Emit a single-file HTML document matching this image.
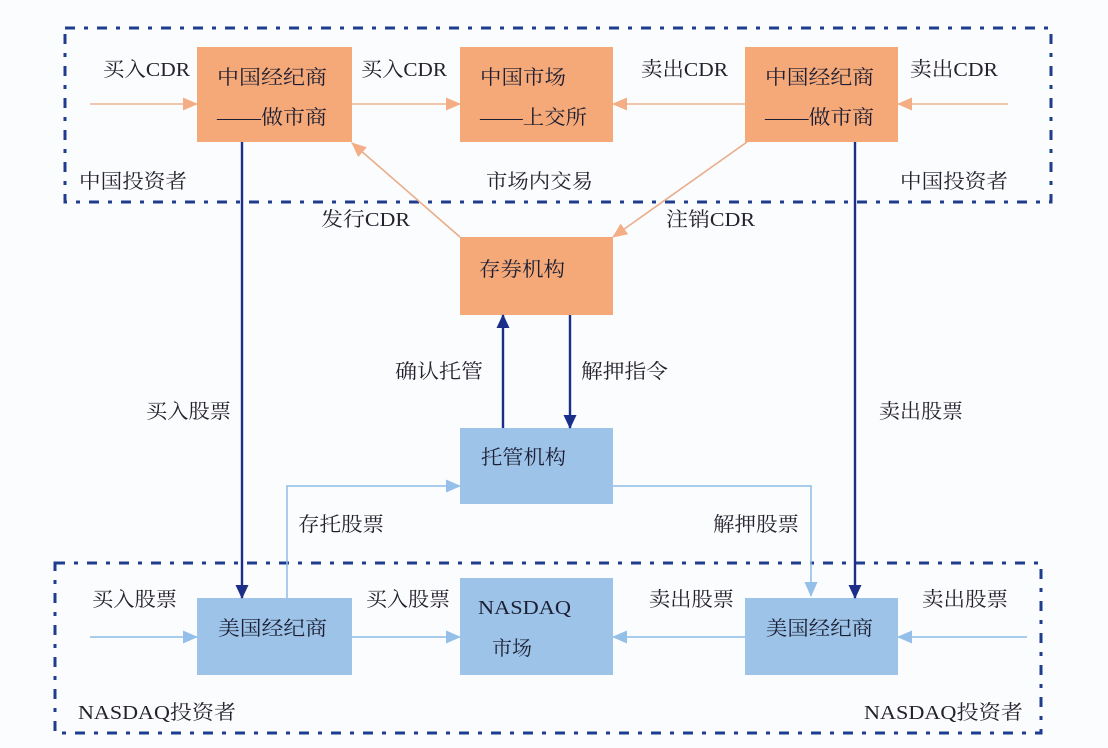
<!DOCTYPE html>
<html>
<head>
<meta charset="utf-8">
<style>
  html,body{margin:0;padding:0;background:#fbfcfe;}
  svg{display:block;}
  text{font-family:"Liberation Serif","Noto Serif CJK SC",serif;fill:#25212c;font-size:20px;dominant-baseline:central;}
  .bx{fill:#1c1f33;}
</style>
</head>
<body>
<svg width="1108" height="748" viewBox="0 0 1108 748" xmlns="http://www.w3.org/2000/svg">
  <defs>
    <marker id="ao" markerWidth="15" markerHeight="13" refX="14" refY="6.5" orient="auto" markerUnits="userSpaceOnUse">
      <path d="M0,0 L15,6.5 L0,13 Z" fill="#f4ad84"/>
    </marker>
    <marker id="ab" markerWidth="15" markerHeight="13" refX="14" refY="6.5" orient="auto" markerUnits="userSpaceOnUse">
      <path d="M0,0 L15,6.5 L0,13 Z" fill="#94bfe8"/>
    </marker>
    <marker id="ad" markerWidth="14" markerHeight="13" refX="13" refY="6.5" orient="auto" markerUnits="userSpaceOnUse">
      <path d="M0,0 L14,6.5 L0,13 Z" fill="#1b2f8a"/>
    </marker>
  </defs>

  <rect x="0" y="0" width="1108" height="748" fill="#fbfcfe"/>

  <!-- dashed regions -->
  <rect x="65" y="28" width="986" height="174" fill="none" stroke="#1f3d8f" stroke-width="3" stroke-dasharray="10 9 4 9"/>
  <rect x="55" y="563" width="986" height="170" fill="none" stroke="#1f3d8f" stroke-width="3" stroke-dasharray="10 9 4 9"/>

  <!-- boxes orange -->
  <rect x="197" y="47" width="155" height="95" fill="#f5a878"/>
  <rect x="460" y="47" width="153" height="95" fill="#f5a878"/>
  <rect x="745" y="47" width="153" height="95" fill="#f5a878"/>
  <rect x="460" y="237" width="153" height="78" fill="#f5a878"/>
  <!-- boxes blue -->
  <rect x="460" y="428" width="153" height="76" fill="#9dc3e8"/>
  <rect x="197" y="598" width="155" height="77" fill="#9dc3e8"/>
  <rect x="460" y="578" width="153" height="97" fill="#9dc3e8"/>
  <rect x="745" y="598" width="153" height="77" fill="#9dc3e8"/>

  <!-- orange arrows -->
  <line x1="90" y1="104" x2="197" y2="104" stroke="#f0b48e" stroke-width="1.6" marker-end="url(#ao)"/>
  <line x1="352" y1="104" x2="460" y2="104" stroke="#f0b48e" stroke-width="1.6" marker-end="url(#ao)"/>
  <line x1="745" y1="104" x2="613" y2="104" stroke="#f0b48e" stroke-width="1.6" marker-end="url(#ao)"/>
  <line x1="1008" y1="104" x2="898" y2="104" stroke="#f0b48e" stroke-width="1.6" marker-end="url(#ao)"/>
  <line x1="460" y1="237" x2="352" y2="143" stroke="#e9ad8a" stroke-width="1.6" marker-end="url(#ao)"/>
  <line x1="747" y1="142" x2="613" y2="237" stroke="#e9ad8a" stroke-width="1.6" marker-end="url(#ao)"/>

  <!-- dark navy arrows -->
  <line x1="242" y1="142" x2="242" y2="598" stroke="#1b2f8a" stroke-width="2.4" marker-end="url(#ad)"/>
  <line x1="855" y1="142" x2="855" y2="598" stroke="#1b2f8a" stroke-width="2.4" marker-end="url(#ad)"/>
  <line x1="503" y1="428" x2="503" y2="315" stroke="#1b2f8a" stroke-width="2.4" marker-end="url(#ad)"/>
  <line x1="570" y1="315" x2="570" y2="428" stroke="#1b2f8a" stroke-width="2.4" marker-end="url(#ad)"/>

  <!-- light blue arrows -->
  <polyline points="287,598 287,486 460,486" fill="none" stroke="#8fbbe6" stroke-width="1.5" marker-end="url(#ab)"/>
  <polyline points="613,486 811,486 811,596" fill="none" stroke="#8fbbe6" stroke-width="1.5" marker-end="url(#ab)"/>
  <line x1="90" y1="637" x2="197" y2="637" stroke="#8fbbe6" stroke-width="1.6" marker-end="url(#ab)"/>
  <line x1="352" y1="637" x2="460" y2="637" stroke="#8fbbe6" stroke-width="1.6" marker-end="url(#ab)"/>
  <line x1="745" y1="637" x2="613" y2="637" stroke="#8fbbe6" stroke-width="1.6" marker-end="url(#ab)"/>
  <line x1="1027" y1="637" x2="898" y2="637" stroke="#8fbbe6" stroke-width="1.6" marker-end="url(#ab)"/>

  <!-- top labels -->
  <text x="103" y="70" textLength="87" lengthAdjust="spacingAndGlyphs">买入CDR</text>
  <text class="bx" x="217" y="78" textLength="110" lengthAdjust="spacingAndGlyphs">中国经纪商</text>
  <text class="bx" x="217" y="118" textLength="110" lengthAdjust="spacingAndGlyphs">——做市商</text>
  <text x="361" y="70" textLength="86" lengthAdjust="spacingAndGlyphs">买入CDR</text>
  <text class="bx" x="480" y="78" textLength="86" lengthAdjust="spacingAndGlyphs">中国市场</text>
  <text class="bx" x="480" y="118" textLength="107" lengthAdjust="spacingAndGlyphs">——上交所</text>
  <text x="641" y="70" textLength="87" lengthAdjust="spacingAndGlyphs">卖出CDR</text>
  <text class="bx" x="765" y="78" textLength="109" lengthAdjust="spacingAndGlyphs">中国经纪商</text>
  <text class="bx" x="765" y="118" textLength="109" lengthAdjust="spacingAndGlyphs">——做市商</text>
  <text x="910" y="70" textLength="88" lengthAdjust="spacingAndGlyphs">卖出CDR</text>
  <text x="79" y="182" textLength="108" lengthAdjust="spacingAndGlyphs">中国投资者</text>
  <text x="486" y="182" textLength="107" lengthAdjust="spacingAndGlyphs">市场内交易</text>
  <text x="900" y="182" textLength="108" lengthAdjust="spacingAndGlyphs">中国投资者</text>

  <!-- middle labels -->
  <text x="321" y="220" textLength="89" lengthAdjust="spacingAndGlyphs">发行CDR</text>
  <text x="666" y="220" textLength="89" lengthAdjust="spacingAndGlyphs">注销CDR</text>
  <text class="bx" x="479" y="270" textLength="86" lengthAdjust="spacingAndGlyphs">存券机构</text>
  <text x="395" y="372" textLength="88" lengthAdjust="spacingAndGlyphs">确认托管</text>
  <text x="581" y="372" textLength="87" lengthAdjust="spacingAndGlyphs">解押指令</text>
  <text x="146" y="412" textLength="85" lengthAdjust="spacingAndGlyphs">买入股票</text>
  <text x="879" y="412" textLength="84" lengthAdjust="spacingAndGlyphs">卖出股票</text>
  <text class="bx" x="481" y="458" textLength="85" lengthAdjust="spacingAndGlyphs">托管机构</text>
  <text x="298" y="525" textLength="86" lengthAdjust="spacingAndGlyphs">存托股票</text>
  <text x="713" y="525" textLength="86" lengthAdjust="spacingAndGlyphs">解押股票</text>

  <!-- bottom labels -->
  <text x="92" y="600" textLength="85" lengthAdjust="spacingAndGlyphs">买入股票</text>
  <text class="bx" x="218" y="629" textLength="109" lengthAdjust="spacingAndGlyphs">美国经纪商</text>
  <text x="366" y="600" textLength="84" lengthAdjust="spacingAndGlyphs">买入股票</text>
  <text class="bx" x="478" y="608" textLength="93" lengthAdjust="spacingAndGlyphs">NASDAQ</text>
  <text class="bx" x="492" y="649" textLength="40" lengthAdjust="spacingAndGlyphs">市场</text>
  <text x="649" y="600" textLength="85" lengthAdjust="spacingAndGlyphs">卖出股票</text>
  <text class="bx" x="766" y="629" textLength="107" lengthAdjust="spacingAndGlyphs">美国经纪商</text>
  <text x="922" y="600" textLength="86" lengthAdjust="spacingAndGlyphs">卖出股票</text>
  <text x="78" y="713" textLength="158" lengthAdjust="spacingAndGlyphs">NASDAQ投资者</text>
  <text x="864" y="713" textLength="159" lengthAdjust="spacingAndGlyphs">NASDAQ投资者</text>
</svg>
</body>
</html>
